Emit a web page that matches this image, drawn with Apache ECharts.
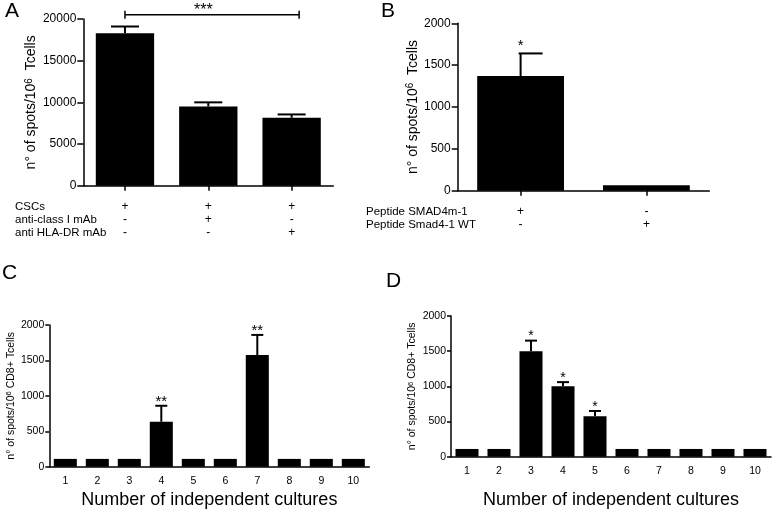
<!DOCTYPE html>
<html>
<head>
<meta charset="utf-8">
<script src="https://cdn.jsdelivr.net/npm/echarts@6/dist/echarts.min.js"></script>
<style>
html,body{margin:0;padding:0;background:#fff;}
#chart{width:775px;height:510px;}
</style>
</head>
<body>
<div id="chart"></div>
<script>
// ---------- DATA ----------
// Panel A
const rowNamesA = ['CSCs', 'anti-class I mAb', 'anti HLA-DR mAb'];
const rowCSCs   = ['+', '+', '+'];
const rowClassI = ['-', '+', '-'];
const rowHLADR  = ['-', '-', '+'];
const valuesA   = [18300, 9500, 8150];
const errorsA   = [800, 500, 400];
const bracketA  = [0, 2, 20500];   // from group, to group, level
const bracketLabelA = '***';
const yTicksA   = [0, 20000, 5000];

// Panel B
const rowNamesB = ['Peptide SMAD4m-1', 'Peptide Smad4-1 WT'];
const rowSMAD4m = ['+', '-'];
const rowWT     = ['-', '+'];
const valuesB   = [1370, 65];
const errorsB   = [270, 0];
const sigB      = ['*', ''];
const yTicksB   = [0, 2000, 500];

// Panel C
const culturesC = ['1','2','3','4','5','6','7','8','9','10'];
const valuesC   = [110, 110, 110, 635, 110, 110, 1575, 110, 110, 110];
const errorsC   = [0, 0, 0, 225, 0, 0, 285, 0, 0, 0];
const sigC      = ['', '', '', '**', '', '', '**', '', '', ''];

// Panel D
const culturesD = ['1','2','3','4','5','6','7','8','9','10'];
const valuesD   = [110, 110, 1500, 1000, 575, 110, 110, 110, 110, 110];
const errorsD   = [0, 0, 150, 60, 75, 0, 0, 0, 0, 0];
const sigD      = ['', '', '*', '*', '*', '', '', '', '', ''];
const yTicksCD  = [0, 2000, 500];

// ---------- CHART ----------
const FONT = '"Liberation Sans", Arial, Helvetica, sans-serif';
const chart = echarts.init(document.getElementById('chart'), null, {renderer: 'canvas'});
const plain = v => String(v);

function errorSeries(idx, values, errors, sigs, capLeft, capRight, sigSize, sigGap) {
  return {
    type: 'custom', xAxisIndex: idx, yAxisIndex: idx, clip: false, z: 5,
    data: values.map((v, i) => [i, v, errors[i]]),
    renderItem: function (params, api) {
      const i = api.value(0), v = api.value(1), e = api.value(2);
      const children = [];
      const base = api.coord([i, v]);
      const top = api.coord([i, v + e]);
      if (e > 0) {
        children.push({type: 'line', shape: {x1: base[0], y1: base[1], x2: top[0], y2: top[1]},
          style: {stroke: '#000', lineWidth: 2}});
        children.push({type: 'line', shape: {x1: top[0] - capLeft, y1: top[1], x2: top[0] + capRight, y2: top[1]},
          style: {stroke: '#000', lineWidth: 2}});
      }
      const s = sigs ? sigs[params.dataIndex] : '';
      if (s) {
        children.push({type: 'text', x: top[0], y: top[1] - sigGap,
          style: {text: s, fontSize: sigSize, fontFamily: FONT, fill: '#000', align: 'center', verticalAlign: 'middle'}});
      }
      return {type: 'group', children: children};
    }
  };
}

const axisLineStyle = {show: true, lineStyle: {color: '#000', width: 1.5}};
function richTitle(big, small) {
  return {color: '#000', fontFamily: FONT, rich: {
    a: {fontSize: big, fontFamily: FONT, color: '#000', verticalAlign: 'bottom'},
    s: {fontSize: small, fontFamily: FONT, color: '#000', verticalAlign: 'top'}}};
}

const option = {
  animation: false,
  backgroundColor: '#fff',
  textStyle: {fontFamily: FONT, color: '#000'},
  grid: [
    {left: 83.3, top: 19, width: 250, height: 166.7},
    {left: 457.7, top: 23.3, width: 251.6, height: 167.4},
    {left: 49.3, top: 325, width: 320, height: 141.7},
    {left: 451, top: 316, width: 320, height: 140.7}
  ],
  xAxis: [
    {gridIndex: 0, type: 'category', data: rowCSCs.map((_, i) => String(i)),
      axisLine: axisLineStyle, axisTick: {show: true, alignWithLabel: true, length: 5, lineStyle: {color: '#000', width: 1.5}},
      axisLabel: {margin: 14, fontSize: 12, lineHeight: 13.3, color: '#000', fontFamily: FONT,
        formatter: (v, i) => [rowCSCs[i], rowClassI[i], rowHLADR[i]].join('\n')}},
    {gridIndex: 1, type: 'category', data: rowSMAD4m.map((_, i) => String(i)),
      axisLine: axisLineStyle, axisTick: {show: true, alignWithLabel: true, length: 5, lineStyle: {color: '#000', width: 1.5}},
      axisLabel: {margin: 14, fontSize: 12, lineHeight: 13.3, color: '#000', fontFamily: FONT,
        formatter: (v, i) => [rowSMAD4m[i], rowWT[i]].join('\n')}},
    {gridIndex: 2, type: 'category', data: culturesC,
      axisLine: axisLineStyle, axisTick: {show: false},
      axisLabel: {margin: 9, fontSize: 10.5, color: '#000', fontFamily: FONT},
      name: 'Number of independent cultures', nameLocation: 'middle', nameGap: 24,
      nameTextStyle: {fontSize: 18, color: '#000', fontFamily: FONT}},
    {gridIndex: 3, type: 'category', data: culturesD,
      axisLine: axisLineStyle, axisTick: {show: false},
      axisLabel: {margin: 9, fontSize: 10.5, color: '#000', fontFamily: FONT},
      name: 'Number of independent cultures', nameLocation: 'middle', nameGap: 34,
      nameTextStyle: {fontSize: 18, color: '#000', fontFamily: FONT}}
  ],
  yAxis: [
    {gridIndex: 0, type: 'value', min: yTicksA[0], max: yTicksA[1], interval: yTicksA[2],
      splitLine: {show: false}, axisLine: axisLineStyle,
      axisTick: {show: true, length: 6, lineStyle: {color: '#000', width: 1.5}},
      axisLabel: {margin: 7, fontSize: 12, color: '#000', fontFamily: FONT, formatter: plain},
      name: '{a|n° of spots/10}{s|6}{a|  Tcells}', nameLocation: 'middle', nameRotate: 90, nameGap: 45,
      nameTextStyle: richTitle(14, 10)},
    {gridIndex: 1, type: 'value', min: yTicksB[0], max: yTicksB[1], interval: yTicksB[2],
      splitLine: {show: false}, axisLine: axisLineStyle,
      axisTick: {show: true, length: 6, lineStyle: {color: '#000', width: 1.5}},
      axisLabel: {margin: 7, fontSize: 12, color: '#000', fontFamily: FONT, formatter: plain},
      name: '{a|n° of spots/10}{s|6}{a|  Tcells}', nameLocation: 'middle', nameRotate: 90, nameGap: 38,
      nameTextStyle: richTitle(14, 10)},
    {gridIndex: 2, type: 'value', min: yTicksCD[0], max: yTicksCD[1], interval: yTicksCD[2],
      splitLine: {show: false}, axisLine: axisLineStyle,
      axisTick: {show: true, length: 4, lineStyle: {color: '#000', width: 1.5}},
      axisLabel: {margin: 5, fontSize: 10.5, color: '#000', fontFamily: FONT, formatter: plain},
      name: '{a|n° of spots/10}{s|6}{a| CD8+ Tcells}', nameLocation: 'middle', nameRotate: 90, nameGap: 33,
      nameTextStyle: richTitle(10.5, 7.5)},
    {gridIndex: 3, type: 'value', min: yTicksCD[0], max: yTicksCD[1], interval: yTicksCD[2],
      splitLine: {show: false}, axisLine: axisLineStyle,
      axisTick: {show: true, length: 4, lineStyle: {color: '#000', width: 1.5}},
      axisLabel: {margin: 5, fontSize: 10.5, color: '#000', fontFamily: FONT, formatter: plain},
      name: '{a|n° of spots/10}{s|6}{a| CD8+ Tcells}', nameLocation: 'middle', nameRotate: 90, nameGap: 33,
      nameTextStyle: richTitle(10.5, 7.5)}
  ],
  series: [
    {type: 'bar', xAxisIndex: 0, yAxisIndex: 0, data: valuesA, barWidth: '70%', itemStyle: {color: '#000'}},
    {type: 'bar', xAxisIndex: 1, yAxisIndex: 1, data: valuesB, barWidth: '69%', itemStyle: {color: '#000'}},
    {type: 'bar', xAxisIndex: 2, yAxisIndex: 2, data: valuesC, barWidth: '72%', itemStyle: {color: '#000'}},
    {type: 'bar', xAxisIndex: 3, yAxisIndex: 3, data: valuesD, barWidth: '72%', itemStyle: {color: '#000'}},
    errorSeries(0, valuesA, errorsA, null, 14, 14, 16, 8),
    errorSeries(1, valuesB, errorsB, sigB, 2, 22, 15, 8),
    errorSeries(2, valuesC, errorsC, sigC, 6, 6, 15, 4),
    errorSeries(3, valuesD, errorsD, sigD, 6, 6, 14, 4),
    {
      type: 'custom', xAxisIndex: 0, yAxisIndex: 0, clip: false, z: 6,
      data: [bracketA],
      renderItem: function (params, api) {
        const p0 = api.coord([api.value(0), api.value(2)]);
        const p1 = api.coord([api.value(1), api.value(2)]);
        const x1 = p1[0] + api.size([1, 0])[0] * 0.09;
        const mid = api.coord([1, api.value(2)]);
        return {type: 'group', children: [
          {type: 'line', shape: {x1: p0[0], y1: p0[1], x2: x1, y2: p0[1]}, style: {stroke: '#000', lineWidth: 1.5}},
          {type: 'line', shape: {x1: p0[0], y1: p0[1] - 4, x2: p0[0], y2: p0[1] + 4}, style: {stroke: '#000', lineWidth: 1.5}},
          {type: 'line', shape: {x1: x1, y1: p0[1] - 4, x2: x1, y2: p0[1] + 4}, style: {stroke: '#000', lineWidth: 1.5}},
          {type: 'text', x: mid[0] - 5, y: p0[1] - 4, style: {text: bracketLabelA, fontSize: 16, fontFamily: FONT, fill: '#000', align: 'center', verticalAlign: 'middle'}}
        ]};
      }
    }
  ],
  graphic: [
    {type: 'text', left: 5, top: 1, style: {text: 'A', fontSize: 21, fontFamily: FONT, fill: '#000'}},
    {type: 'text', left: 381, top: 1, style: {text: 'B', fontSize: 21, fontFamily: FONT, fill: '#000'}},
    {type: 'text', left: 2, top: 263, style: {text: 'C', fontSize: 21, fontFamily: FONT, fill: '#000'}},
    {type: 'text', left: 386, top: 271, style: {text: 'D', fontSize: 21, fontFamily: FONT, fill: '#000'}},
    {type: 'text', x: 15, y: 206.7, style: {text: rowNamesA[0], fontSize: 11.5, fontFamily: FONT, fill: '#000', verticalAlign: 'middle'}},
    {type: 'text', x: 15, y: 220, style: {text: rowNamesA[1], fontSize: 11.5, fontFamily: FONT, fill: '#000', verticalAlign: 'middle'}},
    {type: 'text', x: 15, y: 233.3, style: {text: rowNamesA[2], fontSize: 11.5, fontFamily: FONT, fill: '#000', verticalAlign: 'middle'}},
    {type: 'text', x: 366, y: 212, style: {text: rowNamesB[0], fontSize: 11.5, fontFamily: FONT, fill: '#000', verticalAlign: 'middle'}},
    {type: 'text', x: 366, y: 225, style: {text: rowNamesB[1], fontSize: 11.5, fontFamily: FONT, fill: '#000', verticalAlign: 'middle'}}
  ]
};
chart.setOption(option);
</script>
</body>
</html>
